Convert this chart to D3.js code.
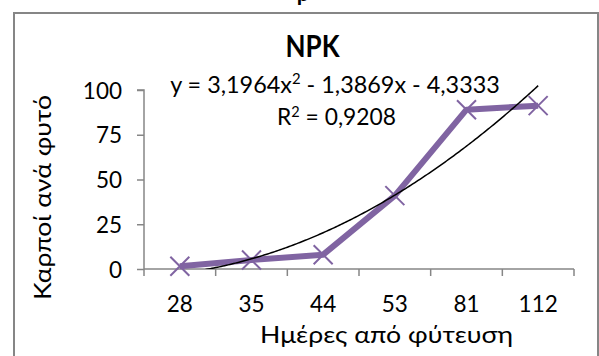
<!DOCTYPE html>
<html>
<head>
<meta charset="utf-8">
<script src="https://cdn.jsdelivr.net/npm/d3@7"></script>
<style>
  html, body { margin: 0; padding: 0; background: #fff; }
  svg { display: block; }
  text { font-family: Lato, "Noto Sans", sans-serif; fill: #000; }
</style>
</head>
<body>
<svg id="chart" width="599" height="356"></svg>
<script>
// Days after planting (category axis)
const days = ["28", "35", "44", "53", "81", "112"];
// Mean fruits per plant
const fruits = [1.5, 5, 8, 41, 89, 91.25];
// Value axis ticks
const yTicks = [0, 25, 50, 75, 100];
// Polynomial (order 2) trendline coefficients: y = a·x² + b·x + c, x = 1..n
const trendCoef = [3.1964, -1.3869, -4.3333];
const trendR2 = 0.9208;

const title = "NPK";
const yTitle = "Καρποί ανά φυτό";
const xTitle = "Ημέρες από φύτευση";

const svg = d3.select("#chart");
const purple = "#8064A2";
const axisGrey = "#868686";

// Scale a text's font sizes so its rendered width equals `target`
function fitWidth(sel, target) {
  const w = sel.node().getBBox().width;
  const k = target / w;
  sel.selectAll("*").addBack ? null : null;
  [sel.node(), ...sel.node().querySelectorAll("tspan")].forEach(n => {
    const fs = parseFloat(n.style.fontSize);
    if (fs) n.style.fontSize = (fs * k) + "px";
    const dy = n.getAttribute("dy");
    if (dy) n.setAttribute("dy", parseFloat(dy) * k);
  });
}

// Outer chart frame
svg.append("rect")
  .attr("x", 14).attr("y", 13)
  .attr("width", 584).attr("height", 360)
  .attr("fill", "#fff")
  .attr("stroke", axisGrey).attr("stroke-width", 2);

// Fragment of the heading above the frame
svg.append("text")
  .attr("x", 303).attr("y", 1)
  .attr("text-anchor", "middle")
  .style("font-weight", "bold").style("font-size", "22px")
  .text("p");

const plot = { left: 144, right: 574, top: 90, bottom: 269 };

const x = d3.scaleBand().domain(days).range([plot.left, plot.right]);
const y = d3.scaleLinear().domain([0, 100]).range([plot.bottom, plot.top]);

// Y axis
const yAxis = d3.axisLeft(y).tickValues(yTicks).tickSize(7).tickPadding(15)
  .tickFormat(d3.format("d"));
const gy = svg.append("g").attr("transform", `translate(${plot.left},0)`).call(yAxis);
gy.select(".domain").attr("stroke", axisGrey).attr("stroke-width", 1.5)
  .attr("d", `M-7,${plot.top}H0V${plot.bottom + 7}`);
gy.selectAll(".tick line").attr("stroke", axisGrey).attr("stroke-width", 1.5);
gy.selectAll(".tick text").style("font-size", "22.5px").attr("fill", "#000")
  .attr("dy", "0.36em");

// X axis with tick marks between categories
const xAxis = d3.axisBottom(x).tickSize(0).tickPadding(27);
const gx = svg.append("g").attr("transform", `translate(0,${plot.bottom})`).call(xAxis);
gx.select(".domain").attr("stroke", axisGrey).attr("stroke-width", 1.5)
  .attr("d", `M${plot.left},0H${plot.right}`);
gx.selectAll(".tick text").style("font-size", "22.5px").attr("fill", "#000")
  .attr("dy", "0.7em");
const bounds = days.map(d => x(d) + x.bandwidth());
gx.selectAll(".sep").data(bounds).join("line").attr("class", "sep")
  .attr("x1", d => d).attr("x2", d => d)
  .attr("y1", 0).attr("y2", 7)
  .attr("stroke", axisGrey).attr("stroke-width", 1.5);

const cx = d => x(d) + x.bandwidth() / 2;

// Clip for trendline (plot area floor at zero)
svg.append("clipPath").attr("id", "plotClip")
  .append("rect").attr("x", plot.left).attr("y", 20)
  .attr("width", plot.right - plot.left).attr("height", plot.bottom - 20);

// Data series
const line = d3.line().x((d, i) => cx(days[i])).y(d => y(d));
svg.append("path").datum(fruits)
  .attr("d", line)
  .attr("fill", "none").attr("stroke", purple)
  .attr("stroke-width", 6).attr("stroke-linejoin", "round");

// X markers
const m = 9.5;
const mk = svg.append("g");
fruits.forEach((v, i) => {
  const px = cx(days[i]), py = y(v);
  mk.append("path")
    .attr("d", `M${px - m},${py - m}L${px + m},${py + m}M${px - m},${py + m}L${px + m},${py - m}`)
    .attr("stroke", purple).attr("stroke-width", 2).attr("fill", "none");
});

// Trendline from the fitted polynomial
const [a, b, c] = trendCoef;
const n = days.length;
const trendPts = d3.range(0, 201).map(k => {
  const t = 1 + (n - 1) * k / 200;
  return [t, a * t * t + b * t + c];
});
const tx = d3.scaleLinear().domain([1, n]).range([cx(days[0]), cx(days[n - 1])]);
svg.append("path").datum(trendPts)
  .attr("clip-path", "url(#plotClip)")
  .attr("d", d3.line().x(d => tx(d[0])).y(d => y(d[1])))
  .attr("fill", "none").attr("stroke", "#000").attr("stroke-width", 1.5);

// Title
svg.append("text")
  .attr("x", 312.5).attr("y", 57)
  .attr("text-anchor", "middle")
  .attr("textLength", 54).attr("lengthAdjust", "spacingAndGlyphs")
  .style("font-weight", "bold").style("font-size", "31px")
  .text(title);

// Trendline equation and R²
const fmt = v => d3.format(".4f")(Math.abs(v)).replace(".", ",");
const eq = svg.append("text").attr("x", 335).attr("y", 93)
  .attr("text-anchor", "middle").style("font-size", "22px");
eq.append("tspan").style("font-size", "22px").text(`y = ${fmt(a)}x`);
eq.append("tspan").attr("dy", -8).style("font-size", "14px").text("2");
eq.append("tspan").attr("dy", 8).style("font-size", "22px")
  .text(` ${b < 0 ? "-" : "+"} ${fmt(b)}x ${c < 0 ? "-" : "+"} ${fmt(c)}`);
fitWidth(eq, 330);

const r2 = svg.append("text").attr("x", 336.5).attr("y", 125)
  .attr("text-anchor", "middle").style("font-size", "22px");
r2.append("tspan").style("font-size", "22px").text("R");
r2.append("tspan").attr("dy", -8).style("font-size", "14px").text("2");
r2.append("tspan").attr("dy", 8).style("font-size", "22px").text(` = ${fmt(trendR2)}`);
fitWidth(r2, 119);

// Axis titles
svg.append("text")
  .attr("transform", `translate(51,197.5) rotate(-90)`)
  .attr("text-anchor", "middle").style("font-size", "23px")
  .attr("textLength", 205).attr("lengthAdjust", "spacingAndGlyphs")
  .text(yTitle);

svg.append("text")
  .attr("x", 386.5).attr("y", 343)
  .attr("text-anchor", "middle").style("font-size", "23px")
  .attr("textLength", 253).attr("lengthAdjust", "spacingAndGlyphs")
  .text(xTitle);
</script>
</body>
</html>
